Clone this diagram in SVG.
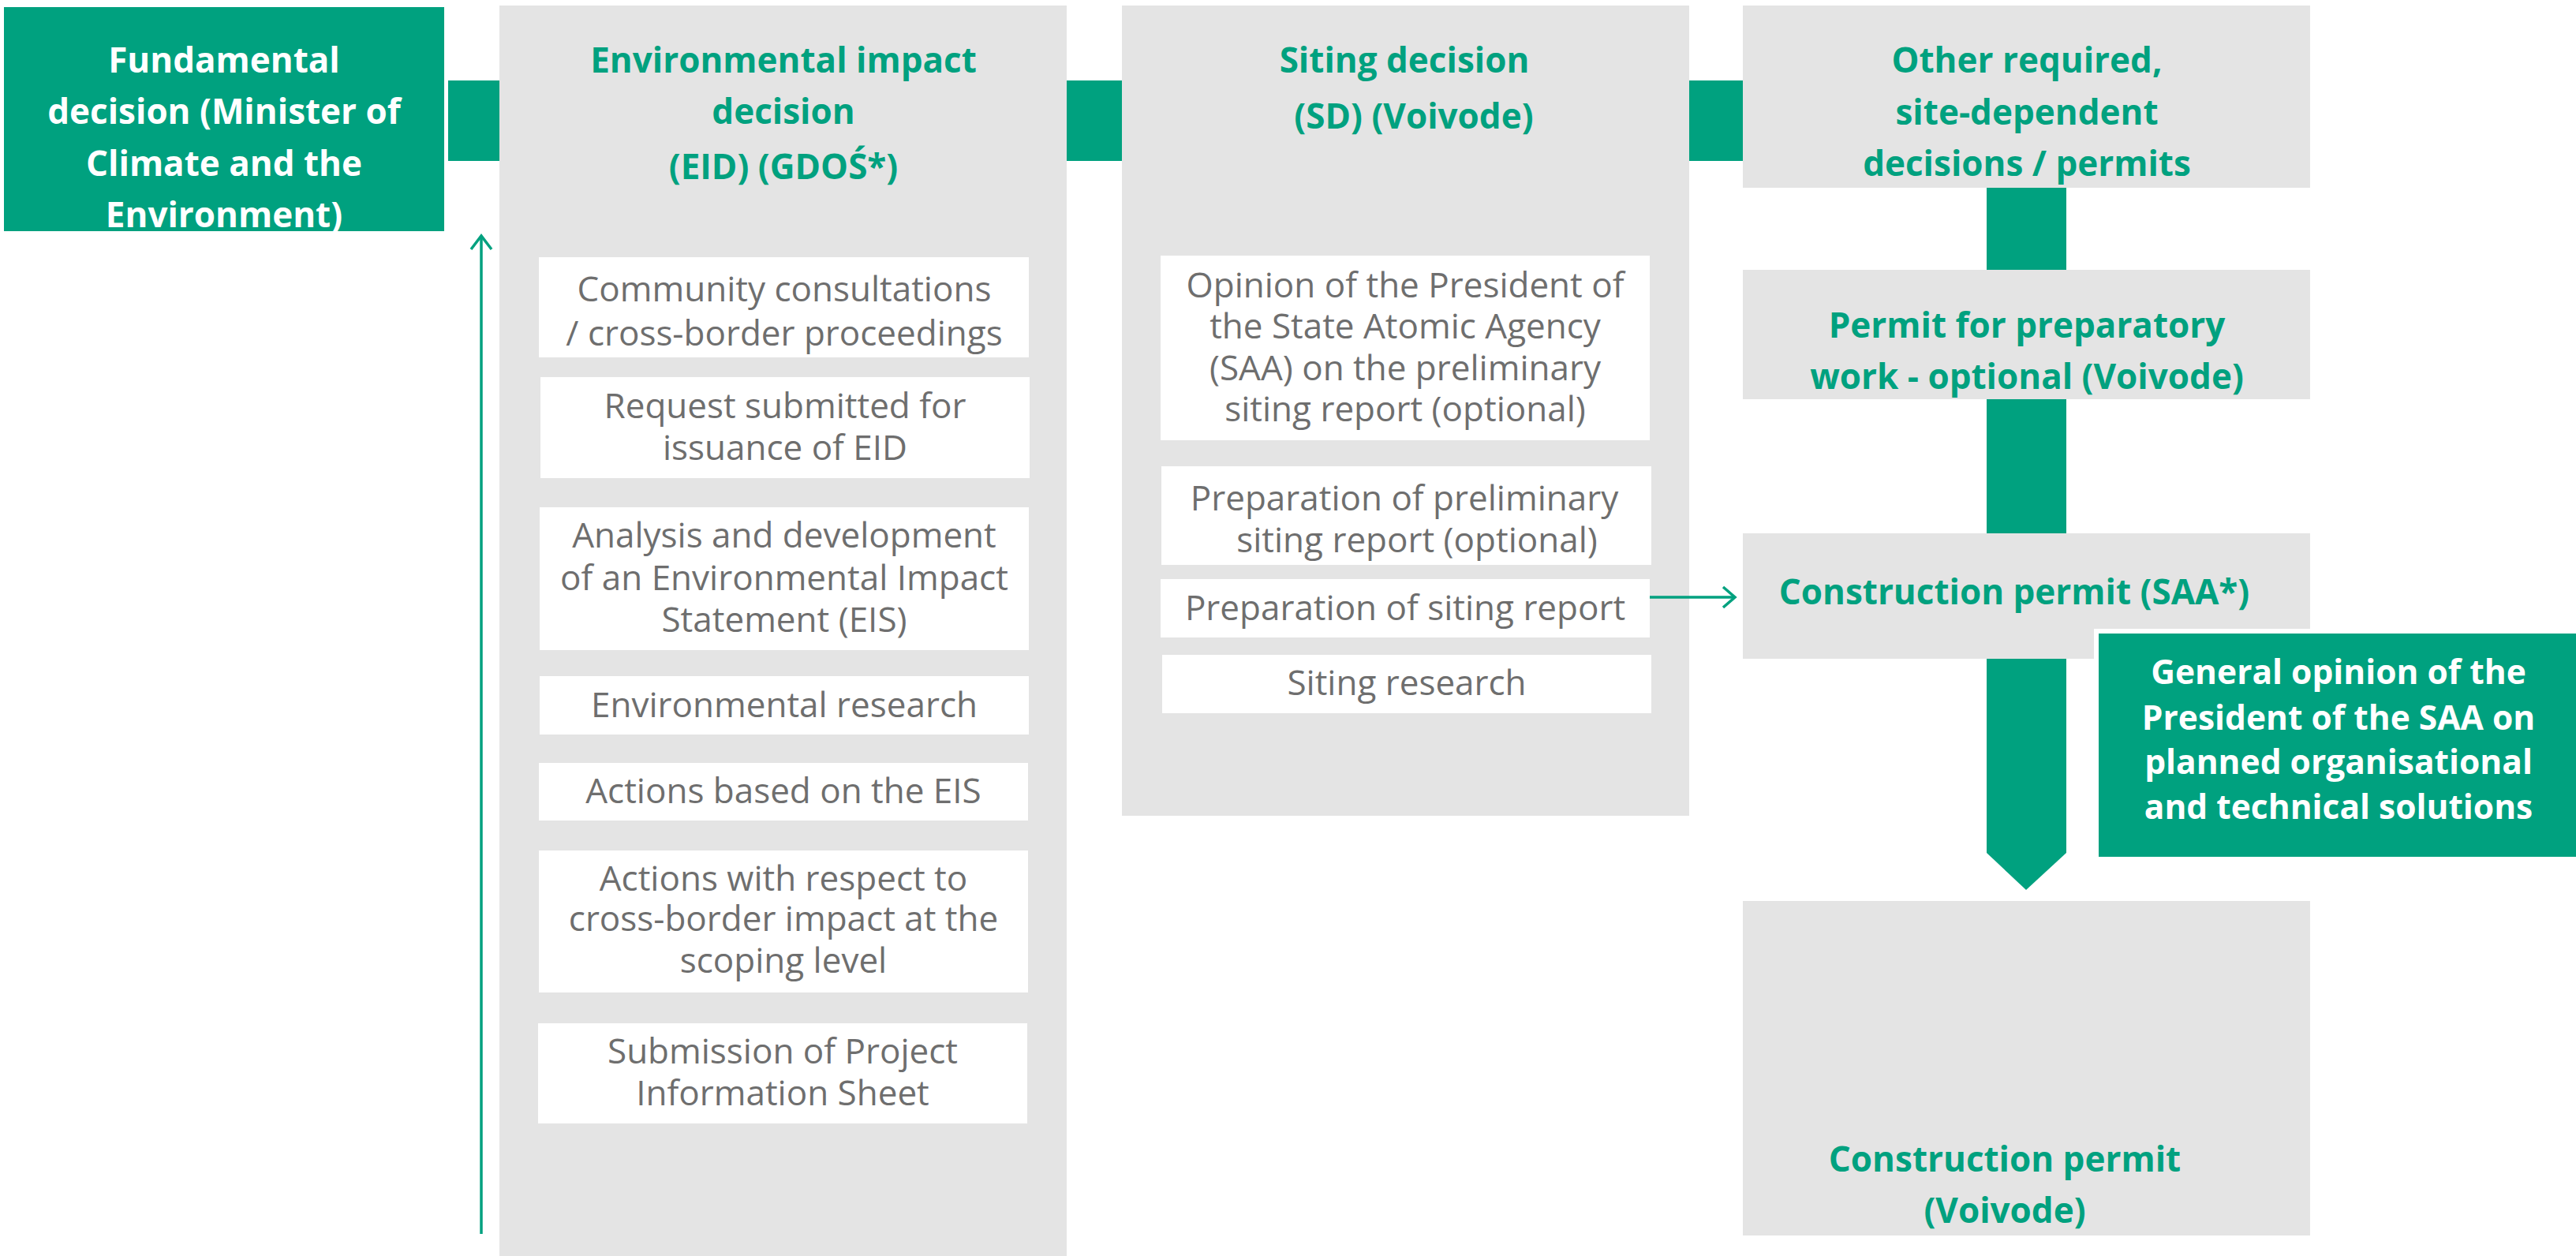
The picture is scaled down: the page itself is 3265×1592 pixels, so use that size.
<svg xmlns="http://www.w3.org/2000/svg" width="3265" height="1592" viewBox="0 0 3265 1592">
<style>
.col{fill:#E4E4E4}
.sub{fill:#FFFFFF}
.grn{fill:#00A17F}
.t{font-family:"Open Sans","Liberation Sans",sans-serif;font-size:44px;text-anchor:middle}
.g{fill:#6E6E6E}
.h{fill:#00A17F;font-weight:bold}
.w{fill:#FFFFFF;font-weight:bold}
.s42{font-size:42.5px}
.ln{stroke:#00A17F;stroke-width:3.5;fill:none}
</style>
<rect width="3265" height="1592" fill="#FFFFFF"/>

<g id="fundamental">
<rect class="grn" x="5" y="9" width="558" height="284"/>
<text class="t w" x="284" y="92">Fundamental</text>
<text class="t w" x="284" y="157">decision (Minister of</text>
<text class="t w" x="284" y="223">Climate and the</text>
<text class="t w" x="284" y="288">Environment)</text>
</g>

<g id="eid">
<rect class="col" x="633" y="7" width="719" height="1585"/>
<text class="t h" x="993" y="92">Environmental impact</text>
<text class="t h" x="993" y="157">decision</text>
<text class="t h" x="993" y="227">(EID) (GDOŚ*)</text>
</g>
<g id="eid-community">
<rect class="sub" x="683" y="326" width="621" height="127"/>
<text class="t g" x="994" y="382">Community consultations</text>
<text class="t g" x="994" y="438">/ cross-border proceedings</text>
</g>
<g id="eid-request">
<rect class="sub" x="685" y="478" width="620" height="128"/>
<text class="t g" x="995" y="530">Request submitted for</text>
<text class="t g" x="995" y="583">issuance of EID</text>
</g>
<g id="eid-analysis">
<rect class="sub" x="684" y="643" width="620" height="181"/>
<text class="t g" x="994" y="694">Analysis and development</text>
<text class="t g" x="994" y="748">of an Environmental Impact</text>
<text class="t g" x="994" y="801">Statement (EIS)</text>
</g>
<g id="eid-research">
<rect class="sub" x="684" y="857" width="620" height="74"/>
<text class="t g" x="994" y="909">Environmental research</text>
</g>
<g id="eid-actions-eis">
<rect class="sub" x="683" y="967" width="620" height="73"/>
<text class="t g" x="993" y="1018">Actions based on the EIS</text>
</g>
<g id="eid-actions-crossborder">
<rect class="sub" x="683" y="1078" width="620" height="180"/>
<text class="t g" x="993" y="1129">Actions with respect to</text>
<text class="t g" x="993" y="1180">cross-border impact at the</text>
<text class="t g" x="993" y="1233">scoping level</text>
</g>
<g id="eid-submission">
<rect class="sub" x="682" y="1297" width="620" height="127"/>
<text class="t g" x="992" y="1348">Submission of Project</text>
<text class="t g" x="992" y="1401">Information Sheet</text>
</g>

<g id="sd">
<rect class="col" x="1422" y="7" width="719" height="1027"/>
<text class="t h" x="1780" y="92">Siting decision</text>
<text class="t h" x="1792" y="163">(SD) (Voivode)</text>
</g>
<g id="sd-opinion">
<rect class="sub" x="1471" y="324" width="620" height="234"/>
<text class="t g" x="1781" y="377">Opinion of the President of</text>
<text class="t g" x="1781" y="429">the State Atomic Agency</text>
<text class="t g" x="1781" y="482">(SAA) on the preliminary</text>
<text class="t g" x="1781" y="534">siting report (optional)</text>
</g>
<g id="sd-prelim">
<rect class="sub" x="1472" y="591" width="621" height="125"/>
<text class="t g" x="1780" y="647">Preparation of preliminary</text>
<text class="t g" x="1796" y="700">siting report (optional)</text>
</g>
<g id="sd-report">
<rect class="sub" x="1471" y="734" width="620" height="74"/>
<text class="t g" x="1781" y="786">Preparation of siting report</text>
</g>
<g id="sd-research">
<rect class="sub" x="1473" y="830" width="620" height="74"/>
<text class="t g" x="1783" y="881">Siting research</text>
</g>

<g id="other">
<rect class="col" x="2209" y="7" width="719" height="231"/>
<text class="t h" x="2569" y="92">Other required,</text>
<text class="t h" x="2569" y="158">site-dependent</text>
<text class="t h" x="2569" y="223">decisions / permits</text>
</g>
<g id="prep-permit">
<rect class="col" x="2209" y="342" width="719" height="164"/>
<text class="t h" x="2569" y="428">Permit for preparatory</text>
<text class="t h" x="2569" y="493">work - optional (Voivode)</text>
</g>
<g id="construction-saa">
<rect class="col" x="2209" y="676" width="719" height="159"/>
<text class="t h" x="2553" y="766">Construction permit (SAA*)</text>
</g>
<g id="construction-voivode">
<rect class="col" x="2209" y="1142" width="719" height="424"/>
<text class="t h" x="2541" y="1485">Construction permit</text>
<text class="t h" x="2541" y="1550">(Voivode)</text>
</g>

<g id="connectors">
<rect class="grn" x="568" y="102" width="65" height="102"/>
<rect class="grn" x="1352" y="102" width="70" height="102"/>
<rect class="grn" x="2141" y="102" width="68" height="102"/>
<rect class="grn" x="2518" y="238" width="101" height="104"/>
<rect class="grn" x="2518" y="506" width="101" height="170"/>
<polygon class="grn" points="2518,835 2619,835 2619,1081 2568,1128 2518,1081"/>
<line class="ln" x1="610" y1="1564" x2="610" y2="299"/>
<polyline class="ln" points="597,316 610,299 623,316"/>
<line class="ln" x1="2091" y1="757" x2="2198" y2="757"/>
<polyline class="ln" points="2184,744 2199,757 2184,770"/>
</g>

<g id="general-opinion">
<rect class="grn" x="2657" y="800" width="612" height="289" stroke="#FFFFFF" stroke-width="6"/>
<text class="t w s42" x="2964" y="867">General opinion of the</text>
<text class="t w s42" x="2964" y="925">President of the SAA on</text>
<text class="t w s42" x="2964" y="981">planned organisational</text>
<text class="t w s42" x="2964" y="1038">and technical solutions</text>
</g>
</svg>
